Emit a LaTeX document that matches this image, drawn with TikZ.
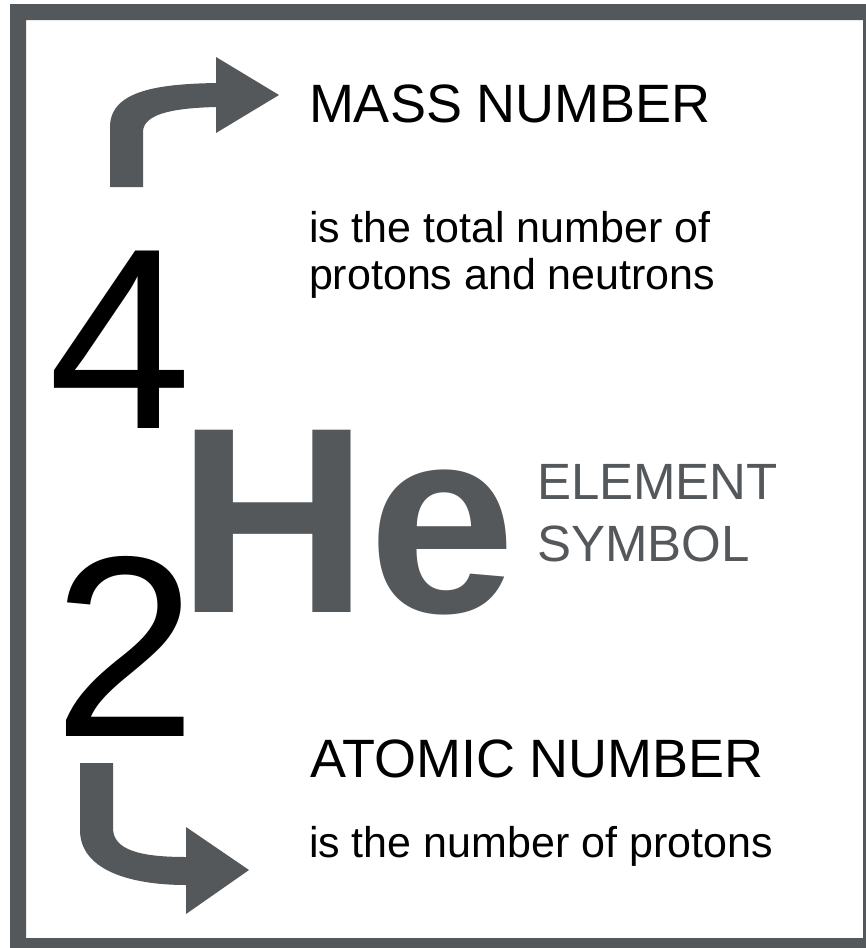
\documentclass[tikz,border=0pt]{standalone}
\usepackage{fontspec}
\setmainfont{Liberation Sans}
\definecolor{framegray}{RGB}{84,88,91}
\begin{document}
\begin{tikzpicture}[x=1pt,y=-1pt,
  lbl/.style={anchor=base west, inner sep=0pt, outer sep=0pt},
  head/.style={lbl, font=\fontsize{54}{54}\selectfont},
  desc/.style={lbl, font=\fontsize{43}{43}\selectfont},
  bignum/.style={lbl, font=\fontsize{258}{258}\selectfont},
  graylbl/.style={lbl, text=framegray, font=\fontsize{51}{51}\selectfont},
  arrowshape/.style={fill=framegray, draw=none}]
\useasboundingbox (0,0) rectangle (866,948);
% frame
\fill[framegray, even odd rule] (10,4) rectangle (866,948) (26,20) rectangle (863,938);
% texts
\node[head] (mass) at (309,122) {MASS NUMBER};
\node[desc] (massd1) at (309,242) {is the total number of};
\node[desc] (massd2) at (309,289) {protons and neutrons};
\node[bignum] (four) at (48,428) {4};
\node[bignum] (two) at (53,736) {2};
\node[lbl, text=framegray, font=\bfseries\fontsize{265}{265}\selectfont] (he) at (177,612) {He};
\node[graylbl] (el1) at (537,499) {ELEMENT};
\node[graylbl] (el2) at (537,561) {SYMBOL};
\node[head] (atomic) at (310,777) {ATOMIC NUMBER};
\node[desc] (atomd) at (309,857) {is the number of protons};
% top arrow
\fill[arrowshape] (110,187) -- (110,127)
  .. controls (110,90) and (160,84) .. (216,83)
  -- (216,57) -- (279,95) -- (216,133) -- (216,107)
  .. controls (180,108) and (143,112) .. (143,132)
  -- (143,187) -- cycle;
% bottom arrow
\fill[arrowshape] (80,763) -- (80,830)
  .. controls (80,870) and (130,885) .. (186,885)
  -- (186,914) -- (249,870) -- (186,827) -- (186,857)
  .. controls (140,857) and (113,850) .. (113,828)
  -- (113,763) -- cycle;
\end{tikzpicture}
\end{document}
